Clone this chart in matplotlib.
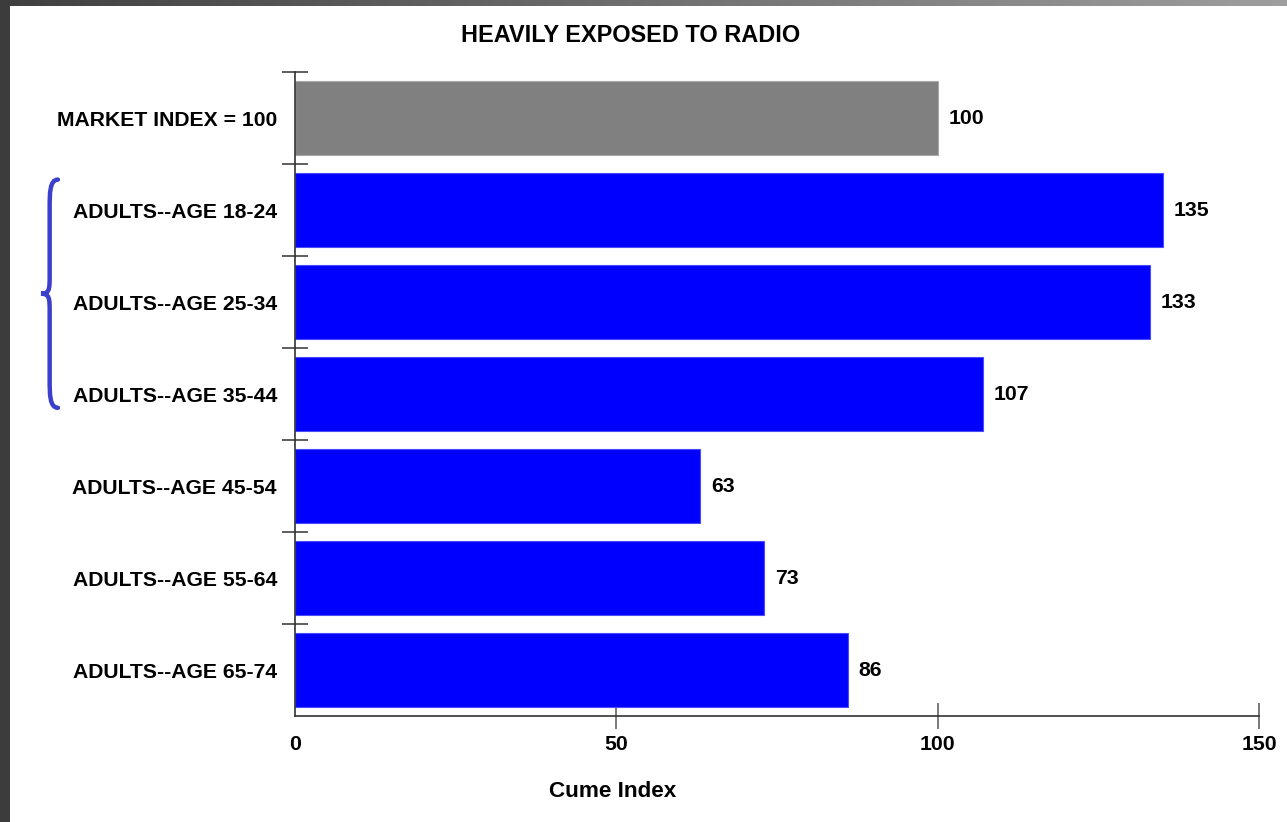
import numpy as np
import matplotlib
matplotlib.use("Agg")
import matplotlib.pyplot as plt
from matplotlib.path import Path
from matplotlib.patches import PathPatch, Rectangle
import matplotlib.transforms as mtransforms

# ---- data ----
categories = ["MARKET INDEX = 100", "ADULTS--AGE 18-24", "ADULTS--AGE 25-34",
              "ADULTS--AGE 35-44", "ADULTS--AGE 45-54", "ADULTS--AGE 55-64",
              "ADULTS--AGE 65-74"]
values = [100, 135, 133, 107, 63, 73, 86]
bar_colors = ["#808080", "#0000FF", "#0000FF", "#0000FF", "#0000FF", "#0000FF", "#0000FF"]
x_ticks = [0, 50, 100, 150]
title = "HEAVILY EXPOSED TO RADIO"
x_label = "Cume Index"

plt.rcParams['font.family'] = ['Liberation Sans', 'DejaVu Sans']
plt.rcParams['font.weight'] = 'bold'

W, H = 1287, 822
fig = plt.figure(figsize=(W / 100, H / 100), dpi=100)
fig.patch.set_facecolor("white")

# background frame (dark slide border on left and top)
bg = fig.add_axes([0, 0, 1, 1], zorder=-10)
bg.set_axis_off()
grad = np.linspace(0.25, 0.62, 256)[None, :, None] * np.ones((1, 1, 3))
bg.imshow(grad, extent=[0, W, 6, 0], aspect='auto')
bg.add_patch(Rectangle((0, 0), 10, H, color="#3c3c3c", lw=0))
bg.set_xlim(0, W)
bg.set_ylim(H, 0)

ax = fig.add_axes([295 / W, 106 / H, 964 / W, 644 / H])
ax.set_facecolor("white")
ypos = np.arange(len(categories))
ax.barh(ypos, values, height=0.8, color=bar_colors,
        edgecolor=["#a8a8a8"] + ["#4a4aff"] * 6, linewidth=0.8, zorder=2)
ax.set_xlim(0, 150)
ax.set_ylim(len(categories) - 0.5, -0.5)

for s in ["top", "right"]:
    ax.spines[s].set_visible(False)
for s in ["left", "bottom"]:
    ax.spines[s].set_color("#333333")
    ax.spines[s].set_linewidth(1.2)

ax.set_yticks(ypos)
ax.set_yticklabels(categories, fontsize=15.2, fontweight='bold')
ax.tick_params(axis='y', which='major', length=0, pad=13)
ax.set_yticks(np.arange(-0.5, len(categories) - 1, 1.0), minor=True)
ax.tick_params(axis='y', which='minor', direction='inout', length=19,
               width=1.1, color="#333333")

ax.set_xticks(x_ticks)
ax.set_xticklabels([str(t) for t in x_ticks], fontsize=15.3, fontweight='bold')
ax.tick_params(axis='x', which='major', direction='inout', length=19,
               width=1.1, color="#555555", pad=4)
ax.xaxis.get_major_ticks()[0].tick1line.set_visible(False)

for y, v in zip(ypos, values):
    ax.annotate(str(v), (v, y), xytext=(8, 0), textcoords='offset points',
                ha='left', va='center', fontsize=15.3, fontweight='bold')

ax.text(0.329, -0.118, x_label, transform=ax.transAxes, ha='center', va='center',
        fontsize=16.2, fontweight='bold')
fig.text(631 / W, 1 - 36 / H, title, ha='center', va='center',
         fontsize=16.9, fontweight='bold')

# curly brace grouping ages 18-44
trans = mtransforms.blended_transform_factory(ax.transAxes, ax.transData)
xa, xm, xt = -0.2459, -0.2545, -0.2635
y0, ym, y1 = 0.67, 1.91, 3.15
verts = [(xa, y0), (xm, y0), (xm, y0 + 0.15), (xm, y0 + 0.3),
         (xm, ym - 0.2),
         (xm, ym - 0.05), (xm, ym), (xt, ym),
         (xm, ym), (xm, ym + 0.05), (xm, ym + 0.2),
         (xm, y1 - 0.3),
         (xm, y1 - 0.15), (xm, y1), (xa, y1)]
codes = [Path.MOVETO, Path.CURVE4, Path.CURVE4, Path.CURVE4,
         Path.LINETO,
         Path.CURVE4, Path.CURVE4, Path.CURVE4,
         Path.CURVE4, Path.CURVE4, Path.CURVE4,
         Path.LINETO,
         Path.CURVE4, Path.CURVE4, Path.CURVE4]
brace = PathPatch(Path(verts, codes), transform=trans, fill=False,
                  edgecolor="#3a3fcc", lw=3.2, clip_on=False, capstyle='round')
ax.add_patch(brace)

fig.savefig("out.png", dpi=100, facecolor=fig.get_facecolor())
